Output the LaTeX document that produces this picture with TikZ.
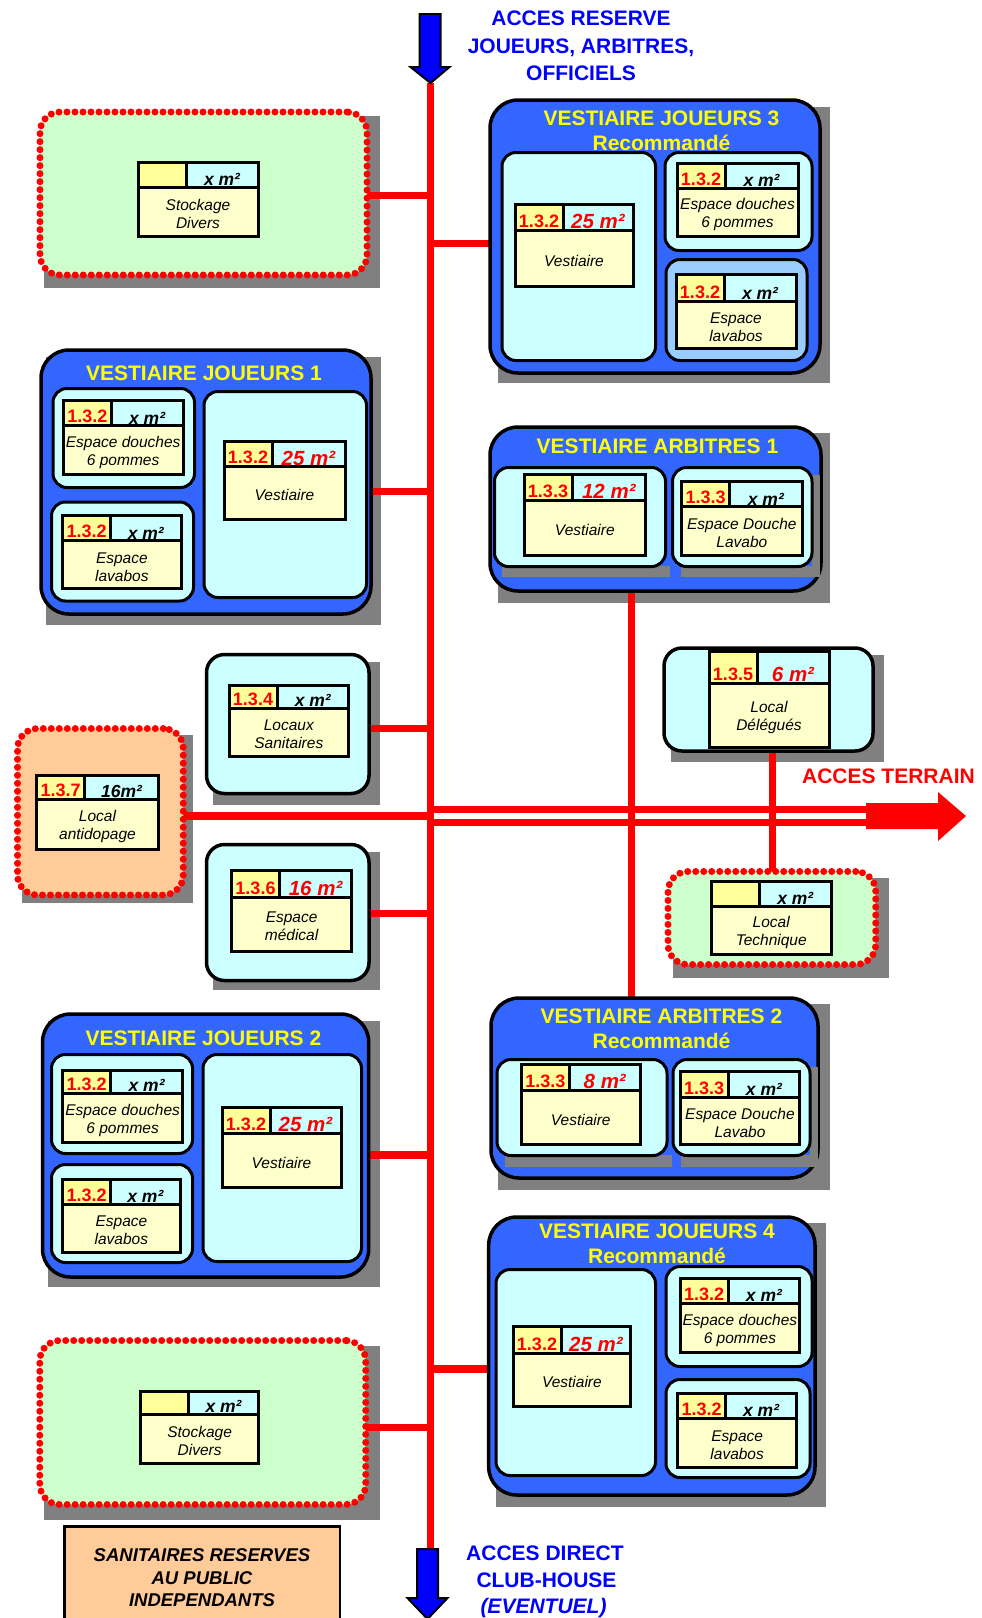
\documentclass[tikz,border=0pt]{standalone}
\usepackage{fontspec}
\setmainfont{Liberation Sans}
\pgfdeclarelayer{shad}
\pgfdeclarelayer{conn}
\pgfsetlayers{shad,conn,main}
\definecolor{bblue}{HTML}{3366FF}
\definecolor{pcyan}{HTML}{CCFFFF}
\definecolor{lblue}{HTML}{99CCFF}
\definecolor{hyel}{HTML}{FFFF99}
\definecolor{byel}{HTML}{FFFFCC}
\definecolor{pgreen}{HTML}{CCFFCC}
\definecolor{porange}{HTML}{FFCC99}
\definecolor{sgray}{HTML}{808080}
\definecolor{tyel}{HTML}{FFFF00}
\definecolor{tblue}{HTML}{0000FF}
\definecolor{rred}{HTML}{FF0000}
\newcommand\ared[1]{{\color{rred}\fontsize{20.5}{20.5}\selectfont #1}}
\newcommand\bx[6]{\node[#2, anchor=north west, minimum width={(#5)-(#3)}, minimum height={(#6)-(#4)}] (#1) at (#3,#4) {};}
\newcommand\shd[4]{\begin{pgfonlayer}{shad}\fill[sgray] (#1,#2) rectangle (#3,#4);\end{pgfonlayer}}
\newcommand\lbl[9]{%
 \node[lblbox, anchor=north west, minimum width={(#4)-(#2)}, minimum height={(#5)-(#3)}] (#1) at (#2,#3) {};
 \fill[hyel] (#2,#3) rectangle ({#2+48},#6);
 \fill[pcyan] ({#2+48},#3) rectangle (#4,#6);
 \node[codetxt, anchor=base] (#1c) at ({#2+24},{#6-3}) {#7};
 \node[areatxt, anchor=base] (#1a) at ({(#2+48+#4)/2},{#6-1.5}) {#8};
 \node[bodytxt, yshift=-2.5pt] (#1t) at ({(#2+#4)/2},{(#6+#5)/2}) {#9};
 \draw[lblline] (#2,#3) rectangle (#4,#5) (#2,#6) -- (#4,#6) ({#2+48},#3) -- ({#2+48},#6);
}
\begin{document}
\begin{tikzpicture}[x=1pt,y=-1pt,
 bigbox/.style={draw=black, line width=3.5pt, fill=bblue, rounded corners=28pt, inner sep=0pt, outer sep=0pt},
 pane/.style={draw=black, line width=3pt, fill=pcyan, rounded corners=14pt, inner sep=0pt, outer sep=0pt},
 dotbox/.style={draw=rred, line width=7pt, dash pattern=on 0pt off 8pt, line cap=round, rounded corners=20pt, inner sep=0pt, outer sep=0pt},
 lblbox/.style={draw=black, line width=3pt, fill=byel, inner sep=0pt, outer sep=0pt},
 lblline/.style={draw=black, line width=3pt},
 codetxt/.style={text=rred, font=\fontsize{18}{18}\selectfont\bfseries, inner sep=0pt},
 areatxt/.style={font=\fontsize{17.5}{17.5}\selectfont\bfseries\itshape, inner sep=0pt},
 bodytxt/.style={font=\fontsize{15.5}{18}\selectfont\itshape, align=center, inner sep=0pt},
 titletxt/.style={text=tyel, font=\fontsize{21}{21}\selectfont\bfseries, inner sep=0pt},
 bluetxt/.style={text=tblue, font=\fontsize{21}{21}\selectfont\bfseries, inner sep=0pt},
 conn/.style={draw=rred, line width=7.5pt}]
\useasboundingbox (0,0) rectangle (982,1618);

% ---------- top access
\node[bluetxt, anchor=base] (ta1) at (581,25) {ACCES RESERVE};
\node[bluetxt, anchor=base] (ta2) at (581,53) {JOUEURS, ARBITRES,};
\node[bluetxt, anchor=base] (ta3) at (581,80) {OFFICIELS};
\coordinate (vtop) at (430.5,83);
\coordinate (vbot) at (430.5,1550);
\filldraw[fill=tblue, draw=black, line width=2pt] (419.5,14) -- (440.5,14) -- (440.5,67) -- (449.5,67) -- (vtop) -- (410.5,67) -- (419.5,67) -- cycle;

% ---------- Stockage 1
\shd{44}{116}{380}{288}
\bx{stock1}{dotbox, fill=pgreen}{40}{112}{367}{275}
\lbl{stockl}{138}{162}{258}{236}{187}{}{x m²}{Stockage\\Divers}

% ---------- VJ3
\shd{498}{107}{830}{383}
\bx{vj3}{bigbox}{490}{100}{820}{373}
\node[titletxt, anchor=base] (vj3a) at (661.5,125) {VESTIAIRE JOUEURS 3};
\node[titletxt, anchor=base] (vj3b) at (661.5,150) {Recommandé};
\bx{vj3p1}{pane}{502}{152.5}{655.5}{360.5}
\bx{vj3p2}{pane}{665}{152.5}{812}{250.5}
\bx{vj3p3}{pane, fill=lblue}{666}{259.5}{807}{360.5}
\lbl{vj3v}{515}{204}{633}{286}{230}{1.3.2}{\ared{25 m²}}{Vestiaire}
\lbl{vj3d}{677}{163}{798}{236}{188}{1.3.2}{x m²}{Espace douches\\6 pommes}
\lbl{vj3l}{676}{274}{796}{348}{301}{1.3.2}{x m²}{Espace\\lavabos}

% ---------- VJ1
\shd{46}{357}{381}{625}
\bx{vj1}{bigbox}{41}{350}{371}{614}
\node[titletxt, anchor=base] (vj1a) at (204,380) {VESTIAIRE JOUEURS 1};
\bx{vj1p1}{pane}{53}{388.5}{194.5}{487.5}
\bx{vj1p2}{pane}{51.5}{502}{193.5}{601}
\bx{vj1p3}{pane}{204}{391.5}{366.5}{597.5}
\lbl{vj1d}{63.3}{400.7}{183}{474}{425.7}{1.3.2}{x m²}{Espace douches\\6 pommes}
\lbl{vj1l}{62.7}{515.7}{181}{588}{540.7}{1.3.2}{x m²}{Espace\\lavabos}
\lbl{vj1v}{224}{441}{345}{519}{466.7}{1.3.2}{\ared{25 m²}}{Vestiaire}

% ---------- VA1
\shd{498}{433}{830}{603}
\bx{va1}{bigbox}{490}{427}{821}{591}
\node[titletxt, anchor=base] (va1a) at (657.5,453) {VESTIAIRE ARBITRES 1};
\shd{502}{475}{670}{577}
\shd{681}{475}{820}{577}
\fill[sgray] (502,566) rectangle (670,577);
\fill[sgray] (681,566) rectangle (820,577);
\fill[sgray] (812,475) rectangle (820,577);
\bx{va1p1}{pane}{494.5}{467.5}{665.5}{566.5}
\bx{va1p2}{pane}{672.5}{467.5}{812}{566.5}
\lbl{va1v}{524}{474}{645.7}{555.7}{500}{1.3.3}{\ared{12 m²}}{Vestiaire}
\lbl{va1d}{681.7}{481.7}{802}{555}{506.7}{1.3.3}{x m²}{Espace Douche\\Lavabo}

% ---------- Delegues
\shd{671}{655}{884}{762}
\bx{deleg}{pane, rounded corners=18pt, line width=3.5pt}{664}{648}{873}{751}
\lbl{delegl}{709}{651}{829}{747}{683}{1.3.5}{\ared{6 m²}}{Local\\Délégués}

% ---------- Locaux sanitaires
\shd{213}{662}{380}{805}
\bx{locs}{pane, rounded corners=18pt, line width=3.5pt}{206.5}{654.5}{369}{793.5}
\lbl{locsl}{229}{685}{348.6}{756}{708}{1.3.4}{x m²}{Locaux\\Sanitaires}

% ---------- Antidopage
\shd{22}{735}{193}{903}
\bx{anti}{dotbox, fill=porange}{17.5}{728.5}{183.3}{895}
\lbl{antil}{36.7}{775}{158.3}{849}{799}{1.3.7}{16m²}{Local\\antidopage}

% ---------- Medical
\shd{213}{852}{380}{990}
\bx{med}{pane, rounded corners=18pt, line width=3.5pt}{206.5}{844.5}{369}{980.5}
\lbl{medl}{231.5}{870}{351.7}{951}{897}{1.3.6}{\ared{16 m²}}{Espace\\médical}

% ---------- Local technique
\shd{673}{878}{888.6}{978}
\bx{loct}{dotbox, fill=pgreen}{668}{871.5}{875.7}{964.5}
\lbl{loctl}{711.5}{881}{831}{954}{906}{}{x m²}{Local\\Technique}

% ---------- VA2
\shd{498}{1004}{830}{1190}
\bx{va2}{bigbox}{491}{998}{818}{1178}
\node[titletxt, anchor=base] (va2a) at (661.5,1023) {VESTIAIRE ARBITRES 2};
\node[titletxt, anchor=base] (va2b) at (661.5,1048) {Recommandé};
\fill[sgray] (505,1155) rectangle (672,1167);
\fill[sgray] (681,1155) rectangle (818,1167);
\fill[sgray] (810,1067) rectangle (818,1167);
\bx{va2p1}{pane}{497}{1059.5}{667}{1155.5}
\bx{va2p2}{pane}{673}{1059.5}{810}{1155.5}
\lbl{va2v}{521.3}{1064}{640.2}{1144}{1090}{1.3.3}{\ared{8 m²}}{Vestiaire}
\lbl{va2d}{680.2}{1071}{799.7}{1144}{1097}{1.3.3}{x m²}{Espace Douche\\Lavabo}

% ---------- VJ2
\shd{48}{1021}{380}{1287}
\bx{vj2}{bigbox}{42.5}{1014}{368.7}{1277}
\node[titletxt, anchor=base] (vj2a) at (203.4,1045) {VESTIAIRE JOUEURS 2};
\bx{vj2p1}{pane}{51.5}{1054.5}{192.5}{1153.5}
\bx{vj2p2}{pane}{51.5}{1164.5}{192.5}{1262.5}
\bx{vj2p3}{pane}{203}{1054.5}{361.5}{1261.5}
\lbl{vj2d}{62.6}{1070}{182.7}{1142}{1093}{1.3.2}{x m²}{Espace douches\\6 pommes}
\lbl{vj2l}{62.6}{1179}{180.2}{1252}{1204}{1.3.2}{x m²}{Espace\\lavabos}
\lbl{vj2v}{222}{1107}{341}{1187}{1133}{1.3.2}{\ared{25 m²}}{Vestiaire}

% ---------- VJ4
\shd{496}{1223}{826}{1507}
\bx{vj4}{bigbox}{488.7}{1217}{815}{1495}
\node[titletxt, anchor=base] (vj4a) at (657,1238) {VESTIAIRE JOUEURS 4};
\node[titletxt, anchor=base] (vj4b) at (657,1263) {Recommandé};
\bx{vj4p1}{pane}{496}{1269.5}{655.5}{1475.5}
\bx{vj4p2}{pane}{666}{1266.5}{812}{1366.5}
\bx{vj4p3}{pane}{666}{1379.5}{810}{1477.5}
\lbl{vj4v}{513}{1326}{630.8}{1406}{1353}{1.3.2}{\ared{25 m²}}{Vestiaire}
\lbl{vj4d}{680.2}{1278}{799.7}{1352}{1303}{1.3.2}{x m²}{Espace douches\\6 pommes}
\lbl{vj4l}{677.7}{1393}{796.6}{1467}{1418}{1.3.2}{x m²}{Espace\\lavabos}

% ---------- Stockage 2
\shd{44}{1346}{380}{1520}
\bx{stock2}{dotbox, fill=pgreen}{39.8}{1340.5}{365.7}{1504.5}
\lbl{stock2l}{140.8}{1391}{258.4}{1463}{1414}{}{x m²}{Stockage\\Divers}

% ---------- Sanitaires
\bx{sani}{draw=black, line width=2.5pt, fill=porange, inner sep=0pt, outer sep=0pt}{64.4}{1526.7}{340}{1630}
\node[font=\fontsize{18.5}{18.5}\selectfont\bfseries\itshape, anchor=base, inner sep=0pt] (sa1) at (202,1561.7) {SANITAIRES RESERVES};
\node[font=\fontsize{18.5}{18.5}\selectfont\bfseries\itshape, anchor=base, inner sep=0pt] (sa2) at (202,1584) {AU PUBLIC};
\node[font=\fontsize{18.5}{18.5}\selectfont\bfseries\itshape, anchor=base, inner sep=0pt] (sa3) at (202,1606.7) {INDEPENDANTS};

% ---------- bottom access
\node[bluetxt, anchor=base] (ba1) at (545,1560) {ACCES DIRECT};
\node[bluetxt, anchor=base] (ba2) at (546.5,1587) {CLUB-HOUSE};
\node[bluetxt, anchor=base, font=\fontsize{21}{21}\selectfont\bfseries\itshape] (ba3) at (543.5,1613) {(EVENTUEL)};
\filldraw[fill=tblue, draw=black, line width=2pt] (417,1549) -- (438,1549) -- (438,1598) -- (447.5,1598) -- (427.5,1619) -- (407.5,1598) -- (417,1598) -- cycle;

% ---------- ACCES TERRAIN
\node[text=rred, font=\fontsize{21}{21}\selectfont\bfseries, anchor=base east, inner sep=0pt] (terr) at (975,783) {ACCES TERRAIN};
\coordinate (tend) at (866,816);

% ---------- connectors
\begin{pgfonlayer}{conn}
 \coordinate (ca) at ([yshift=-4.25pt]anti.east);
 \draw[conn] (ca) -- (ca -| vtop);
 \draw[rred, line width=7pt, double=white, double distance=6.5pt] (ca -| vtop) -- (tend);
 \fill[rred] (tend) ++(0,-13) -- ++(72,0) -- ++(0,-11) -- ++(28,24) -- ++(-28,25) -- ++(0,-12) -- ++(-72,0) -- cycle;
 \draw[conn, line width=7pt] (vtop) -- (vbot);
 \coordinate (d1) at ([xshift=-24.5pt]va1.south);
 \draw[conn, line width=7pt] (d1) -- (d1 |- va2.north);
 \coordinate (d2) at ([xshift=4.3pt]deleg.south);
 \draw[conn, line width=7pt] (d2) -- (d2 |- loct.north);
 \coordinate (c1) at ([yshift=-2pt]stock1.east);
 \draw[conn] (c1) -- (c1 -| vtop);
 \coordinate (c2) at ([yshift=-7pt]vj3.west);
 \draw[conn] (c2 -| vtop) -- (c2);
 \coordinate (c3) at ([yshift=-9.5pt]vj1.east);
 \draw[conn] (c3) -- (c3 -| vtop);
 \coordinate (c4) at ([yshift=-4.3pt]locs.east);
 \draw[conn] (c4) -- (c4 -| vtop);
 \coordinate (c5) at ([yshift=-1.2pt]med.east);
 \draw[conn] (c5) -- (c5 -| vtop);
 \coordinate (c6) at ([yshift=-9.5pt]vj2.east);
 \draw[conn] (c6) -- (c6 -| vtop);
 \coordinate (c7) at ([yshift=-13pt]vj4.west);
 \draw[conn] (c7 -| vtop) -- (c7);
 \coordinate (c8) at ([yshift=-4.8pt]stock2.east);
 \draw[conn] (c8) -- (c8 -| vtop);
\end{pgfonlayer}
\end{tikzpicture}
\end{document}
